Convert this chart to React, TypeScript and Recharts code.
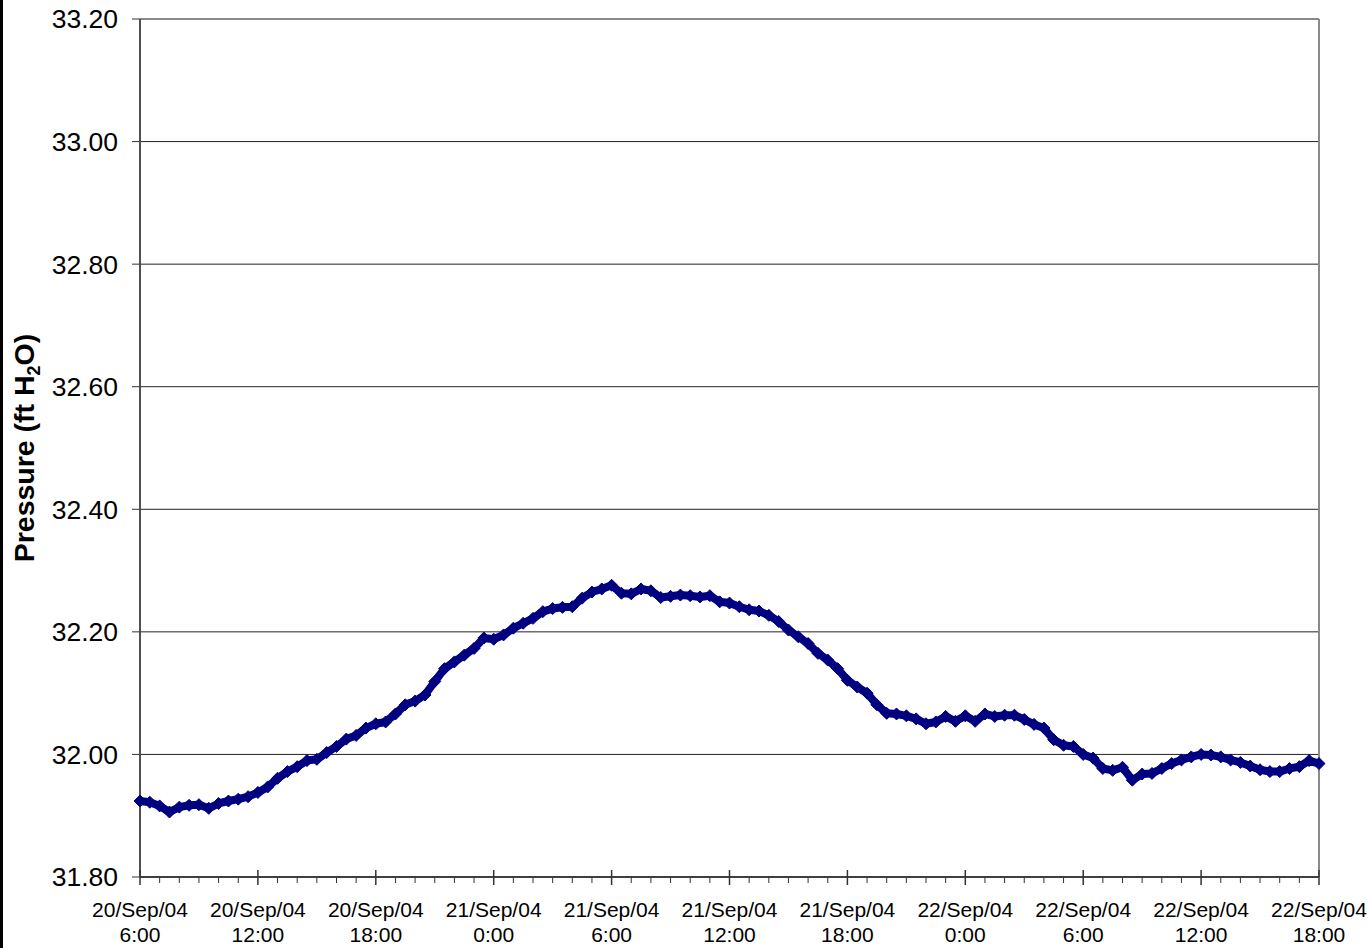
import React from 'react';
import { LineChart, Line, XAxis, YAxis, CartesianGrid, ReferenceLine } from 'recharts';

// Hours elapsed since 20/Sep/04 6:00 (half-hour readings)
const hours: number[] = [
  0, 0.5, 1, 1.5, 2, 2.5, 3, 3.5, 4, 4.5, 5, 5.5, 6, 6.5, 7, 7.5, 8, 8.5, 9, 9.5,
  10, 10.5, 11, 11.5, 12, 12.5, 13, 13.5, 14, 14.5, 15, 15.5, 16, 16.5, 17, 17.5, 18, 18.5, 19, 19.5,
  20, 20.5, 21, 21.5, 22, 22.5, 23, 23.5, 24, 24.5, 25, 25.5, 26, 26.5, 27, 27.5, 28, 28.5, 29, 29.5,
  30, 30.5, 31, 31.5, 32, 32.5, 33, 33.5, 34, 34.5, 35, 35.5, 36, 36.5, 37, 37.5, 38, 38.5, 39, 39.5,
  40, 40.5, 41, 41.5, 42, 42.5, 43, 43.5, 44, 44.5, 45, 45.5, 46, 46.5, 47, 47.5, 48, 48.5, 49, 49.5,
  50, 50.5, 51, 51.5, 52, 52.5, 53, 53.5, 54, 54.5, 55, 55.5, 56, 56.5, 57, 57.5, 58, 58.5, 59, 59.5,
  60,
];

// Pressure (ft H2O)
const pressure: number[] = [
  31.924, 31.922, 31.916, 31.906, 31.914, 31.917, 31.918, 31.912, 31.92, 31.924,
  31.927, 31.931, 31.938, 31.947, 31.961, 31.972, 31.98, 31.99, 31.992, 32.003,
  32.013, 32.025, 32.031, 32.043, 32.05, 32.053, 32.066, 32.081, 32.087, 32.097,
  32.119, 32.14, 32.151, 32.162, 32.173, 32.19, 32.188, 32.195, 32.206, 32.214,
  32.222, 32.233, 32.238, 32.24, 32.241, 32.255, 32.265, 32.27, 32.276, 32.263,
  32.262, 32.27, 32.267, 32.256, 32.258, 32.26, 32.259, 32.257, 32.259, 32.249,
  32.247, 32.241, 32.236, 32.234, 32.227, 32.217, 32.203, 32.192, 32.181, 32.165,
  32.154, 32.14, 32.121, 32.11, 32.1, 32.081, 32.067, 32.066, 32.063, 32.058,
  32.05, 32.053, 32.062, 32.054, 32.063, 32.054, 32.066, 32.062, 32.064, 32.064,
  32.057, 32.049, 32.043, 32.024, 32.015, 32.013, 32.0, 31.994, 31.977, 31.974,
  31.979, 31.958, 31.968, 31.969, 31.977, 31.985, 31.991, 31.996, 32.0, 31.999,
  31.996, 31.991, 31.987, 31.981, 31.975, 31.972, 31.972, 31.977, 31.98, 31.99,
  31.985,
];

const yTicks: number[] = [31.8, 32.0, 32.2, 32.4, 32.6, 32.8, 33.0, 33.2];

const majorTicks: number[] = [0, 6, 12, 18, 24, 30, 36, 42, 48, 54, 60];
const xTickDates: string[] = [
  '20/Sep/04', '20/Sep/04', '20/Sep/04', '21/Sep/04', '21/Sep/04', '21/Sep/04',
  '21/Sep/04', '22/Sep/04', '22/Sep/04', '22/Sep/04', '22/Sep/04',
];
const xTickTimes: string[] = ['6:00', '12:00', '18:00', '0:00', '6:00', '12:00', '18:00', '0:00', '6:00', '12:00', '18:00'];
const minorTicks: number[] = Array.from({ length: 61 }, (_, i) => i);

const data = hours.map((h, i) => ({ h, p: pressure[i] }));

const FONT = '"Liberation Sans", Arial, sans-serif';

const XTick = (props: any) => {
  const { x, y, payload } = props;
  const v = payload.value as number;
  const idx = majorTicks.indexOf(v);
  if (idx < 0) {
    return <line x1={x} x2={x} y1={y} y2={y + 6} stroke="#333" strokeWidth={1} />;
  }
  return (
    <g>
      <line x1={x} x2={x} y1={y - 7} y2={y + 8} stroke="#333" strokeWidth={1.5} />
      <text x={x} y={y + 40} textAnchor="middle" fontSize={21} fontFamily={FONT} fill="#000">
        {xTickDates[idx]}
      </text>
      <text x={x} y={y + 65} textAnchor="middle" fontSize={21} fontFamily={FONT} fill="#000">
        {xTickTimes[idx]}
      </text>
    </g>
  );
};

const Diamond = (props: any) => {
  const { cx, cy } = props;
  if (cx == null || cy == null) return null;
  const s = 6;
  return (
    <path
      d={`M${cx},${cy - s}L${cx + s},${cy}L${cx},${cy + s}L${cx - s},${cy}Z`}
      fill="#000080"
      stroke="#000080"
      strokeWidth={1}
    />
  );
};

const YTitle = () => (
  <text
    transform="rotate(-90)"
    x={-448}
    y={34}
    textAnchor="middle"
    fontSize={28.5}
    fontWeight="bold"
    fontFamily={FONT}
    fill="#000"
  >
    Pressure (ft H<tspan fontSize={18} dy={6}>2</tspan>
    <tspan dy={-6}>O)</tspan>
  </text>
);

export default function App() {
  return (
    <div style={{ position: 'absolute', left: 0, top: 0, width: 1368, height: 948, background: '#fff' }}>
      <LineChart
        width={1368}
        height={948}
        data={data}
        margin={{ top: 19, right: 49, bottom: 0, left: 0 }}
      >
        <CartesianGrid horizontal vertical={false} stroke="#222" strokeWidth={1} />
        <XAxis
          dataKey="h"
          type="number"
          domain={[0, 60]}
          ticks={minorTicks}
          interval={0}
          height={71}
          tickSize={0}
          tickMargin={0}
          tickLine={false}
          tick={<XTick />}
          axisLine={{ stroke: '#404040', strokeWidth: 2 }}
        />
        <YAxis
          type="number"
          domain={[31.8, 33.2]}
          ticks={yTicks}
          interval={0}
          width={140}
          tickSize={8}
          tickMargin={14}
          tickLine={{ stroke: '#333', strokeWidth: 1 }}
          axisLine={{ stroke: '#505050', strokeWidth: 2 }}
          tickFormatter={(v: number) => v.toFixed(2)}
          tick={{ fontSize: 26.5, fontFamily: FONT, fill: '#000' }}
          label={<YTitle />}
        />
        <ReferenceLine y={33.2} stroke="#8a8a8a" strokeWidth={2} />
        <ReferenceLine x={60} stroke="#8a8a8a" strokeWidth={2} />
        <Line
          type="linear"
          dataKey="p"
          stroke="#000080"
          strokeWidth={8}
          strokeLinejoin="round"
          dot={<Diamond />}
          activeDot={false}
          isAnimationActive={false}
        />
      </LineChart>
      <div style={{ position: 'absolute', left: 0, top: 0, width: 3, height: 948, background: '#000' }} />
    </div>
  );
}
